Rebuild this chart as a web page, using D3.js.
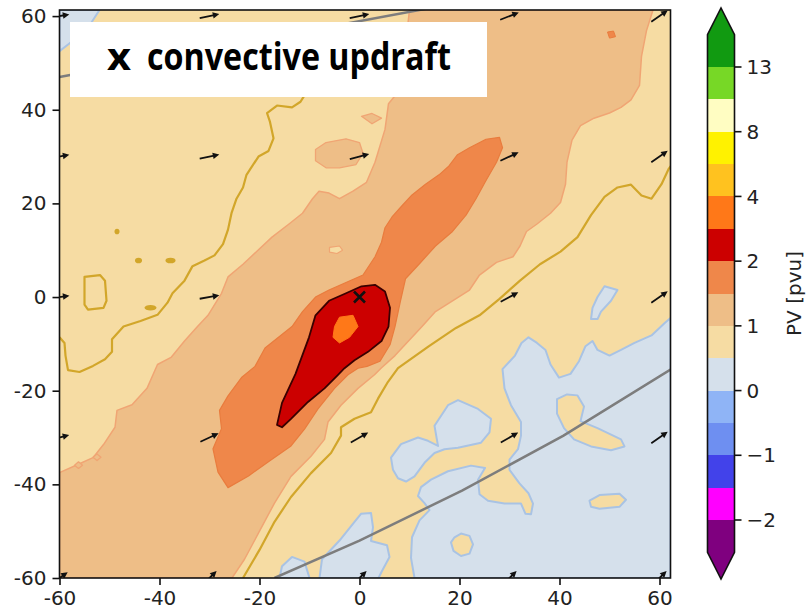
<!DOCTYPE html>
<html>
<head>
<meta charset="utf-8">
<script src="https://cdn.jsdelivr.net/npm/d3@7/dist/d3.min.js"></script>
<style>
  html, body { margin: 0; padding: 0; background: #fff; }
  svg { display: block; }
</style>
</head>
<body>
<script>
/*
  PV levels and colours (colorbar bands, extend both ends)
*/
var pvLevels = [-2, -1.5, -1, -0.5, 0, 0.5, 1, 1.5, 2, 3, 4, 6, 8, 10, 13];
var pvColors = ['#7f007f', '#ff00ff', '#4242ea', '#6e8ff1', '#8fb4f6', '#d5e0eb',
                '#f6dca3', '#eebe87', '#ef874a', '#cc0000', '#ff7818', '#ffc21f',
                '#fff200', '#fffdc2', '#77d826', '#119a11'];
var cbTicks = [-2, -1, 0, 1, 2, 4, 8, 13];
var xTicks = [-60, -40, -20, 0, 20, 40, 60];
var yTicks = [-60, -40, -20, 0, 20, 40, 60];

/*
  Contour outlines, [x, y] in grid units
*/
var blueCorner = [[-60, 61.3], [-52, 61.3], [-54, 58], [-57, 55], [-60, 52.5]];
var blueMain = [[62.2, -4.5], [61.1, -5.5], [58.4, -8.2], [55.0, -9.8], [52.3, -11.3], [50.0, -12.5],
  [47.6, -11.3], [46.6, -9.4], [45.2, -10.5], [43.9, -13.7], [42.2, -16.4], [39.9, -17.2],
  [38.2, -14.4], [37.2, -11.3], [35.5, -9.8], [33.8, -8.6], [32.4, -9.8], [31.1, -12.5],
  [28.6, -15.4], [29.0, -19.5], [30.3, -23.1], [32.3, -26.7], [32.3, -29.6], [31.7, -32.5],
  [30.0, -34.7], [30.0, -36.9], [32.0, -39.8], [33.8, -41.9], [34.7, -44.1], [34.3, -46.4],
  [33.2, -46.3], [32.3, -44.1], [29.0, -44.1], [25.7, -43.5], [24.0, -42.1], [23.7, -39.0],
  [25.1, -36.5], [22.3, -36.0], [17.7, -37.2], [14.3, -39.0], [12.3, -40.6], [11.7, -42.5],
  [13.0, -44.0], [14.0, -45.5], [12.0, -47.7], [10.5, -51.3], [10.3, -55.7], [11.0, -60], [62.2, -60]];
var blueBowtie = [[6.3, -34.3], [8.3, -31.4], [11.7, -30.0], [13.7, -30.7], [15.7, -31.8], [15.0, -27.5],
  [17.7, -23.1], [19.7, -22.0], [23.7, -23.9], [26.3, -26.0], [26.0, -28.9], [24.3, -31.1],
  [19.7, -32.2], [17.0, -32.5], [15.0, -33.3], [13.0, -35.4], [11.0, -38.3], [9.3, -39.4],
  [7.7, -38.7], [6.7, -36.9]];
var blueS = [[49, 2.3], [51.6, 1.5], [50.3, -0.8], [48.3, -3.1], [47.6, -4.7], [46.3, -4.7], [46.6, -2.3], [47.6, 0]];
var blueBottomA = [[-16, -60], [-15.5, -57.5], [-13.5, -55.5], [-11, -56.5], [-10, -60]];
var blueBottomB = [[-8, -60], [-7.5, -56], [-4, -52], [-1, -48], [0.3, -46.3], [2.3, -46.1], [2.7, -49.2],
  [2.3, -52.1], [5.5, -53], [6, -55.5], [4.5, -58.5], [3.8, -60]];

var wheatArm = [[39.5, -21.8], [41.5, -20.8], [43.6, -21.0], [44.9, -23.4], [44.2, -26.5], [47.6, -28.0],
  [52.3, -30.4], [53.0, -31.9], [50.3, -32.7], [46.3, -31.9], [42.9, -30.4], [40.9, -28.0], [39.5, -24.9]];
var wheatDrop = [[46, -43.5], [48, -42.3], [52, -42], [53.3, -43.3], [52, -44.8], [48, -45.2], [46.3, -44.8]];
var wheatRound = [[19, -51.3], [20.3, -50.5], [22, -51], [22.7, -52.8], [22, -54.8], [20.3, -55.3], [18.8, -54.2], [18.3, -52.4]];

var tanRegion = [[-60, -37.5], [-56.0, -35.6], [-53.3, -34.3], [-51.2, -31.5], [-48.9, -27.8], [-48.5, -24.2],
  [-45.5, -23.0], [-42.5, -19.5], [-40.4, -14.4], [-37.7, -12.9], [-35.0, -9.4], [-32.4, -6.3],
  [-30.3, -3.9], [-27.6, 0.8], [-26.3, 4.3], [-23.3, 7.0], [-20.2, 10.1], [-17.5, 12.8], [-14.1, 15.6],
  [-11.4, 17.9], [-9.4, 21.0], [-8.1, 22.6], [-6.1, 22.2], [-4.0, 21.0], [-1.3, 22.6], [1.4, 24.5],
  [3.1, 28.8], [5.1, 35.8], [5.8, 41.3], [7.1, 43], [9, 52], [10, 61.3],
  [58.7, 61.3], [57.4, 56.9], [56.4, 51.4], [56.0, 45.2], [54.3, 42.1], [52.3, 40.5], [50.0, 39.3],
  [46.9, 38.2], [44.2, 36.6], [42.5, 33.5], [41.5, 28.8], [41.2, 24.1], [40.2, 20.2], [38.2, 17.9],
  [35.5, 15.6], [33.4, 14.0], [32.1, 10.9], [30.7, 8.6], [27.4, 7.4], [24.0, 4.7], [22.0, 1.5],
  [18.6, -0.8], [15.2, -3.1], [12.5, -6.3], [9.8, -9.4], [7.1, -12.5], [4.3, -15.2], [3, -16.6],
  [-0.3, -19.5], [-3.7, -23.1], [-6.3, -26.7], [-7, -30.4], [-9.7, -34.0], [-13.7, -38.3],
  [-17, -44], [-20, -50], [-23, -56], [-25.5, -60], [-60, -60]];
var tanBlob = [[-8.8, 31.5], [-6.7, 33], [-2.7, 33.8], [0, 33], [0.7, 30.7], [-0.7, 28.3], [-4.0, 27.6], [-6.7, 27.6], [-8.8, 29.1]];
var tanDotA = [[0.4, 38.6], [2.5, 39.2], [4.4, 38.2], [2.5, 37.0]];
var tanDotB = [[-57, -35.9], [-56.2, -35.2], [-55.4, -35.9], [-56.2, -36.6]];
var tanDotC = [[-53.3, -34.2], [-52.5, -33.5], [-51.7, -34.2], [-52.5, -34.9]];
var wheatHole = [[-6, 10.6], [-4, 10.9], [-3.4, 10], [-4.5, 9.3], [-6, 9.6]];

var coralRegion = [[-29.3, -32.4], [-27.6, -28.1], [-28.0, -24.2], [-26.3, -21.1], [-23.6, -17.2],
  [-20.9, -14.8], [-18.9, -10.9], [-16.2, -8.6], [-13.5, -6.3], [-11.4, -3.1], [-8.8, 0.0], [-6.1, 1.5],
  [-2.7, 3.1], [0.7, 4.7], [3.1, 8.6], [4.4, 11.7], [5.1, 14.8], [6.5, 17.1], [8.5, 19.5], [10.5, 21.8],
  [13.2, 24.1], [15.9, 26.1], [17.9, 28.0], [19.6, 30.4], [22.0, 31.9], [25.3, 33.7], [28.0, 34.1],
  [28.6, 31.9], [27.4, 28.8], [25.3, 24.9], [23.3, 21.0], [21.3, 17.5], [18.6, 14.0], [15.2, 10.9],
  [11.9, 7.0], [9.2, 3.9], [8.2, -0.8], [7.1, -6.3], [6.1, -10.2], [4.1, -13.7], [1.5, -14.8],
  [-0.3, -15.2], [-2.3, -16.6], [-5, -19.5], [-8.3, -23.9], [-11, -28.2], [-13.7, -31.8], [-18, -35],
  [-22.2, -38.2], [-26.3, -40.7], [-28.3, -37.4]];
var coralDot = [[49.6, 56.6], [50.8, 56.8], [51.2, 55.6], [50, 55.3]];
var redRegion = [[-16.5, -27.3], [-15.5, -22.6], [-12.8, -16.4], [-10.1, -8.6], [-8.8, -3.9], [-6.1, -0.8],
  [-2.7, 0.8], [0.4, 2.3], [3.1, 2.6], [5.1, 1.2], [6.1, -2.3], [5.8, -6.3], [4.4, -9.4], [1.7, -11.7],
  [-1, -13.5], [-3, -15.2], [-4.3, -16.6], [-7, -19.5], [-10.3, -22.4], [-13.7, -26], [-15.5, -27.8]];
var orangeRegion = [[-4, -4.3], [-1.3, -3.9], [-0.3, -6.3], [-2, -8.6], [-4, -9.8], [-5.3, -8.6], [-5, -6.3]];

// gold contour line (separate field)
var goldUpper = [[-60, -8.6], [-59.0, -9.8], [-58.8, -12.5], [-58.3, -15.6], [-56.0, -16.0], [-53.3, -14.7],
  [-50.9, -13.3], [-49.5, -11.7], [-49.5, -9.0], [-47.2, -6.3], [-43.8, -5.1], [-40.4, -3.8], [-38.4, -1.2],
  [-37.4, 0.8], [-35.0, 3.5], [-33.4, 6.6], [-31.0, 7.8], [-29.0, 8.9], [-27.3, 11.3], [-26.3, 14.4],
  [-25.6, 17.9], [-24.6, 21.0], [-23.3, 23.4], [-22.6, 26.1], [-20.2, 30.0], [-18.2, 31.2], [-17.2, 33.9],
  [-17.9, 37.4], [-18.5, 39.3], [-16.5, 40.9], [-13.5, 40.5], [-11.8, 41.7], [-11.1, 42.9], [-10.5, 50]];
var goldLower = [[-23.3, -60], [-20, -54], [-17, -48], [-13.7, -42.7], [-9.7, -37.6], [-5.7, -33.3],
  [-3.7, -29.6], [-3.7, -27.8], [-1.0, -26.0], [2.3, -24.6], [3.7, -21.7], [5.7, -18.1], [7.7, -15.2],
  [13.9, -10.5], [19.3, -6.6], [24.0, -3.9], [28.0, -0.4], [32.1, 3.5], [36.1, 7.0], [40.2, 9.7],
  [43.6, 12.8], [46.3, 17.5], [49.0, 21.4], [51.6, 23.4], [54.3, 24.0], [56.4, 21.7], [58.4, 21.0],
  [60.4, 24.1], [61.8, 27.3], [63, 29]];
var goldLoop = [[-55, 4.3], [-51.9, 4.7], [-50.9, 3.5], [-50.6, -0.8], [-51.2, -2.3], [-54.3, -2.7], [-55, -1.6]];
var goldSpots = [[-48.5, 14.0, 0.5, 0.6], [-44.2, 7.8, 0.7, 0.6], [-37.8, 7.8, 1.0, 0.6], [-41.8, -2.3, 1.2, 0.6]];

// cross-section lines
var sectionTop = [[-60, 47], [14, 61.7]];
var sectionBottom = [[-17, -60], [0, -52], [20.6, -41.3], [40.8, -29.6], [62.2, -15.5]];

// wind vectors on a coarse grid (rows follow quiverY)
var quiverX = [-60, -30, 0, 30, 60];
var quiverY = [60, 30, 0, -30, -60];
var windU = [[9.8, 9.8, 9.8, 9.3, 8.2],
             [9.8, 9.8, 9.7, 9.1, 8.2],
             [9.9, 9.8, null, 8.8, 8.2],
             [9.7, 9.1, 8.7, 8.7, 8.2],
             [8.2, 7.1, 7.1, 7.1, 7.1]];
var windV = [[1.7, 2.1, 2.1, 3.7, 5.7],
             [1.7, 2.1, 2.6, 4.2, 5.7],
             [1.4, 1.7, null, 4.7, 5.7],
             [2.6, 4.2, 5.0, 5.0, 5.7],
             [5.7, 7.1, 7.1, 7.1, 7.1]];
var updraft = [0, 0];

init = function () {
  var W = 809, H = 616;
  var svg = d3.select('body').append('svg').attr('width', W).attr('height', H);

  var x = d3.scaleLinear().domain([-60, 62.2]).range([59.5, 670.5]);
  var y = d3.scaleLinear().domain([-60, 61.3]).range([578, 10]);
  var pvColor = d3.scaleThreshold().domain(pvLevels).range(pvColors);

  svg.append('defs').append('clipPath').attr('id', 'plotClip').append('rect')
    .attr('x', x(-60)).attr('y', y(61.3))
    .attr('width', x(62.2) - x(-60)).attr('height', y(-60) - y(61.3));

  var plot = svg.append('g').attr('clip-path', 'url(#plotClip)');
  var openLine = d3.line().x(function (d) { return x(d[0]) }).y(function (d) { return y(d[1]) });
  var closedLine = d3.line().x(function (d) { return x(d[0]) }).y(function (d) { return y(d[1]) })
    .curve(d3.curveLinearClosed);

  // background band 0.5 - 1
  plot.append('rect').attr('x', x(-60)).attr('y', y(61.3))
    .attr('width', x(62.2) - x(-60)).attr('height', y(-60) - y(61.3))
    .attr('fill', pvColor(0.75));

  function region(pts, pv, edge, ew) {
    plot.append('path').attr('d', closedLine(pts))
      .attr('fill', pvColor(pv)).attr('stroke', edge).attr('stroke-width', ew)
      .attr('stroke-linejoin', 'round');
  }

  var blueEdge = '#a9c3e4', tanEdge = '#f0a574', coralEdge = '#e97c3e';
  [blueCorner, blueMain, blueBowtie, blueS, blueBottomA, blueBottomB].forEach(function (p) { region(p, 0.25, blueEdge, 2) });
  [wheatArm, wheatDrop, wheatRound].forEach(function (p) { region(p, 0.75, blueEdge, 2) });
  region(tanRegion, 1.25, tanEdge, 1.5);
  [tanBlob, tanDotA, tanDotB, tanDotC].forEach(function (p) { region(p, 1.25, tanEdge, 1.3) });
  region(wheatHole, 0.75, tanEdge, 1.2);
  region(coralRegion, 1.75, coralEdge, 1.2);
  region(coralDot, 1.75, coralEdge, 1);
  region(redRegion, 2.5, '#3a0000', 1.8);
  region(orangeRegion, 3.5, '#ff7818', 1);

  // gold contour
  var gold = '#d2a62a';
  [goldUpper, goldLower].forEach(function (p) {
    plot.append('path').attr('d', openLine(p)).attr('fill', 'none')
      .attr('stroke', gold).attr('stroke-width', 2.2).attr('stroke-linejoin', 'round');
  });
  plot.append('path').attr('d', closedLine(goldLoop)).attr('fill', 'none')
    .attr('stroke', gold).attr('stroke-width', 2.2).attr('stroke-linejoin', 'round');
  plot.selectAll('ellipse.spot').data(goldSpots).enter().append('ellipse')
    .attr('cx', function (d) { return x(d[0]) }).attr('cy', function (d) { return y(d[1]) })
    .attr('rx', function (d) { return x(d[0] + d[2]) - x(d[0]) })
    .attr('ry', function (d) { return y(d[1] - d[3]) - y(d[1]) })
    .attr('fill', gold);

  // cross-section lines
  [sectionTop, sectionBottom].forEach(function (p) {
    plot.append('path').attr('d', openLine(p)).attr('fill', 'none')
      .attr('stroke', '#7d7d7d').attr('stroke-width', 2.5);
  });

  // wind arrows, pivot in the middle
  var k = 2.0, sw = 1.8, hl = 6.5, hw = 6.5;
  quiverY.forEach(function (qy, r) {
    quiverX.forEach(function (qx, c) {
      var u = windU[r][c], v = windV[r][c];
      if (u === null) return;
      var L = Math.sqrt(u * u + v * v) * k;
      var ang = Math.atan2(-v, u) * 180 / Math.PI;
      var pts = [[-L / 2, -sw / 2], [L / 2 - hl, -sw / 2], [L / 2 - hl, -hw / 2], [L / 2, 0],
                 [L / 2 - hl, hw / 2], [L / 2 - hl, sw / 2], [-L / 2, sw / 2]];
      plot.append('path').attr('d', 'M' + pts.join('L') + 'Z')
        .attr('transform', 'translate(' + x(qx) + ',' + y(qy) + ') rotate(' + ang + ')')
        .attr('fill', '#111');
    });
  });

  // updraft marker
  var ux = x(updraft[0]), uy = y(updraft[1]), s = 5.5;
  plot.append('path')
    .attr('d', 'M' + (ux - s) + ',' + (uy - s) + 'L' + (ux + s) + ',' + (uy + s) +
               'M' + (ux - s) + ',' + (uy + s) + 'L' + (ux + s) + ',' + (uy - s))
    .attr('stroke', '#111').attr('stroke-width', 2.6).attr('fill', 'none');

  // axes
  var font = 'DejaVu Sans, sans-serif';
  var xAxis = svg.append('g').attr('transform', 'translate(0,' + y(-60) + ')')
    .call(d3.axisBottom(x).tickValues(xTicks).tickSize(7).tickPadding(6).tickFormat(d3.format('d')));
  var yAxis = svg.append('g').attr('transform', 'translate(' + x(-60) + ',0)')
    .call(d3.axisLeft(y).tickValues(yTicks).tickSize(7).tickPadding(6).tickFormat(d3.format('d')));
  [xAxis, yAxis].forEach(function (a) {
    a.select('.domain').remove();
    a.selectAll('line').attr('stroke', '#111').attr('stroke-width', 1.6);
    a.selectAll('text').attr('font-family', font).attr('font-size', 20).attr('fill', '#222')
      .text(function (d) { return String(d) });
  });
  svg.append('rect').attr('x', x(-60)).attr('y', y(61.3))
    .attr('width', x(62.2) - x(-60)).attr('height', y(-60) - y(61.3))
    .attr('fill', 'none').attr('stroke', '#111').attr('stroke-width', 1.6);

  // label box
  svg.append('rect').attr('x', 70).attr('y', 22).attr('width', 417).attr('height', 75).attr('fill', '#fff');
  svg.append('text').attr('x', 107).attr('y', 70).attr('font-family', 'Open Sans, sans-serif')
    .attr('font-weight', 700).attr('font-size', 38).attr('textLength', 24)
    .attr('lengthAdjust', 'spacingAndGlyphs').attr('fill', '#000').text('x');
  svg.append('text').attr('x', 147).attr('y', 70).attr('font-family', 'Open Sans, sans-serif')
    .attr('font-weight', 700).attr('font-size', 37).attr('textLength', 304)
    .attr('lengthAdjust', 'spacingAndGlyphs').attr('fill', '#000').text('convective updraft');

  // colorbar
  var cbX0 = 707.5, cbX1 = 734.5, cbMid = (cbX0 + cbX1) / 2;
  var cb = d3.scaleLinear().domain([0, pvLevels.length - 1]).range([520, 67]);
  var band = cb(0) - cb(1);
  var cbg = svg.append('g');
  d3.range(pvLevels.length - 1).forEach(function (i) {
    cbg.append('rect').attr('x', cbX0).attr('y', cb(i + 1)).attr('width', cbX1 - cbX0)
      .attr('height', cb(i) - cb(i + 1)).attr('fill', pvColors[i + 1]).attr('shape-rendering', 'crispEdges');
  });
  var topBase = cb(pvLevels.length - 1) - band, botBase = cb(0) + band;
  cbg.append('path').attr('d', 'M' + cbX0 + ',' + cb(pvLevels.length - 1) + 'L' + cbX0 + ',' + topBase +
      'L' + cbMid + ',8L' + cbX1 + ',' + topBase + 'L' + cbX1 + ',' + cb(pvLevels.length - 1) + 'Z')
    .attr('fill', pvColors[pvColors.length - 1]);
  cbg.append('path').attr('d', 'M' + cbX0 + ',' + cb(0) + 'L' + cbX0 + ',' + botBase +
      'L' + cbMid + ',579L' + cbX1 + ',' + botBase + 'L' + cbX1 + ',' + cb(0) + 'Z')
    .attr('fill', pvColors[0]);
  cbg.append('path').attr('d', 'M' + cbX0 + ',' + topBase + 'L' + cbMid + ',8L' + cbX1 + ',' + topBase +
      'L' + cbX1 + ',' + botBase + 'L' + cbMid + ',579L' + cbX0 + ',' + botBase + 'Z')
    .attr('fill', 'none').attr('stroke', '#111').attr('stroke-width', 1.6);

  cbTicks.forEach(function (t) {
    var ty = cb(pvLevels.indexOf(t));
    cbg.append('line').attr('x1', cbX1).attr('x2', cbX1 + 7).attr('y1', ty).attr('y2', ty)
      .attr('stroke', '#111').attr('stroke-width', 1.6);
    cbg.append('text').attr('x', cbX1 + 12).attr('y', ty).attr('dy', '0.36em')
      .attr('font-family', font).attr('font-size', 20).attr('fill', '#222')
      .text(String(t).replace('-', '\u2212'));
  });
  cbg.append('text').attr('transform', 'translate(801,' + (topBase + botBase) / 2 + ') rotate(-90)')
    .attr('text-anchor', 'middle').attr('font-family', font).attr('font-size', 20).attr('fill', '#222')
    .text('PV [pvu]');
}

init()
</script>
</body>
</html>
